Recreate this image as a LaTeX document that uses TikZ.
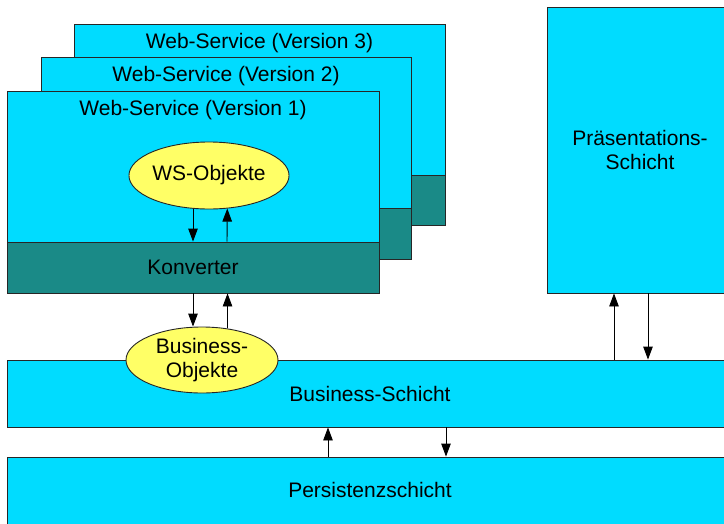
\documentclass[tikz,border=0pt]{standalone}
\usepackage{fontspec}
\setmainfont{Liberation Sans}
\usetikzlibrary{arrows.meta,shapes.geometric,fit}
\definecolor{cy}{RGB}{0,220,255}
\definecolor{tl}{RGB}{26,138,135}
\definecolor{yl}{RGB}{255,255,102}
\begin{document}
\begin{tikzpicture}[x=1pt,y=-1pt,
  font=\fontsize{21}{24}\selectfont,
  box/.style={rectangle, draw=black!85, line width=0.9pt, fill=cy, inner sep=0pt, align=center},
  conv/.style={box, fill=tl},
  obj/.style={ellipse, draw=black!85, line width=0.9pt, fill=yl, inner sep=0pt, align=center},
  ttl/.style={anchor=center, yshift=-20pt, inner sep=0pt},
  arr/.style={-{Triangle[length=13pt,width=9.5pt]}, line width=0.9pt}]
\clip (0,0) rectangle (724,523);
\fill[white] (0,0) rectangle (724,523);
% Web-Service version 3
\node[box, fit={(74,24) (445,175)}, label={[ttl]north:Web-Service (Version 3)}] (ws3) {};
\node[conv, fit={(74,175) (445,225)}] (ws3k) {};
% Web-Service version 2
\node[box, fit={(41,57) (411,208)}, label={[ttl]north:Web-Service (Version 2)}] (ws2) {};
\node[conv, fit={(41,208) (411,259)}] (ws2k) {};
% Web-Service version 1
\node[box, fit={(7,91) (379,242)}, label={[ttl]north:Web-Service (Version 1)}] (ws1) {};
\node[conv, minimum width=372pt, minimum height=51pt] (konv) at (193,267.5) {Konverter};
\node[obj, minimum width=135pt, minimum height=67pt] (wso) at (209,175.5) {WS-Objekte};
% Praesentation
\node[box, minimum width=186pt, minimum height=286pt] (praes) at (640,150) {Präsentations-\\Schicht};
% Business
\node[box, minimum width=726pt, minimum height=67pt] (bs) at (370,393.5) {Business-Schicht};
\node[obj, minimum width=152pt, minimum height=66pt] (bo) at (202,360) {Business-\\Objekte};
% Persistenz
\node[box, fit={(7,457) (733,531)}, label={[yshift=4pt]center:Persistenzschicht}] (pers) {};
% x positions of arrows
\coordinate (xa) at (193,0);
\coordinate (xb) at (227,0);
\coordinate (xc) at (614,0);
\coordinate (xd) at (648,0);
\coordinate (xe) at (328,0);
\coordinate (xf) at (446,0);
% arrows
\draw[arr] (xa |- wso.south) -- (xa |- konv.north);
\draw[arr] (xb |- konv.north) -- (wso.299);
\draw[arr] (xa |- konv.south) -- (xa |- bo.north);
\draw[arr] (bo.51) -- (bo.51 |- konv.south);
\draw[arr] (xc |- bs.north) -- (xc |- praes.south);
\draw[arr] (xd |- praes.south) -- (xd |- bs.north);
\draw[arr] (xe |- pers.north) -- (xe |- bs.south);
\draw[arr] (xf |- bs.south) -- (xf |- pers.north);
\end{tikzpicture}
\end{document}
